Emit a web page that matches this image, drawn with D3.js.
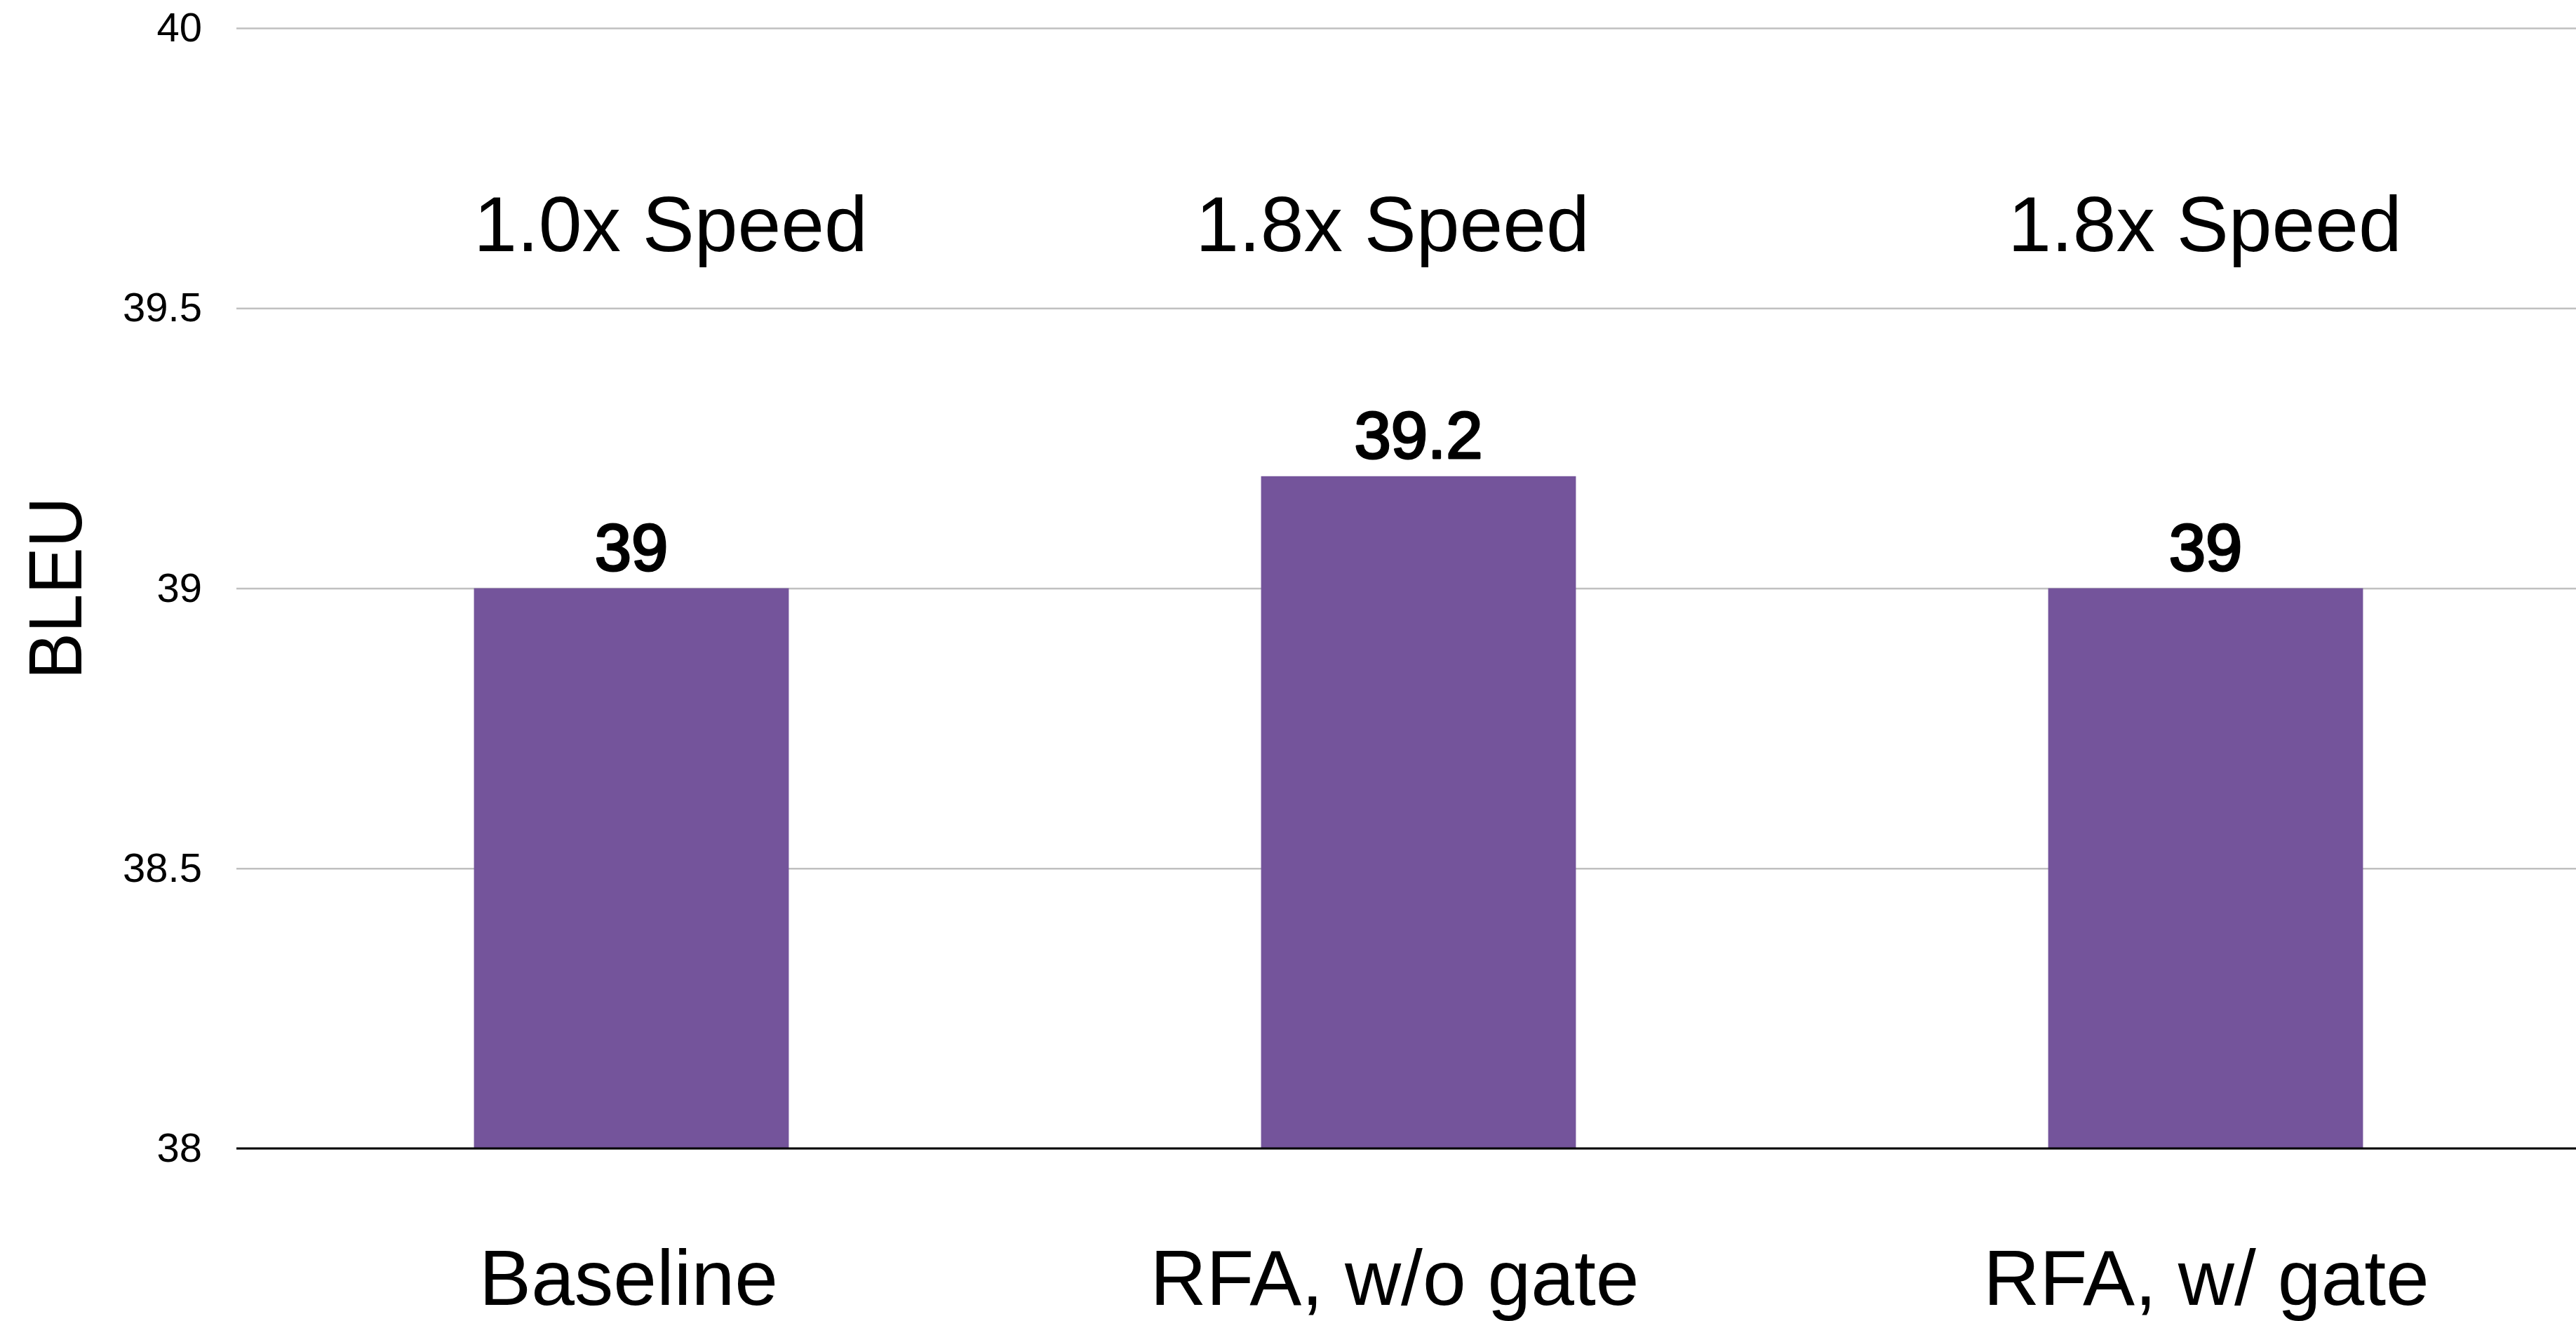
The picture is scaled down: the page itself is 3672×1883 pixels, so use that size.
<!DOCTYPE html>
<html>
<head>
<meta charset="utf-8">
<script src="https://cdn.jsdelivr.net/npm/d3@7"></script>
<style>
  html, body { margin: 0; padding: 0; background: #ffffff; }
  svg { display: block; }
  text { font-family: "Liberation Sans", Arial, Helvetica, sans-serif; fill: #000; }
</style>
</head>
<body>
<script>
// BLEU score per model variant
const categories = ["Baseline", "RFA, w/o gate", "RFA, w/ gate"];
const bleuValues = [39, 39.2, 39];
const valueLabels = ["39", "39.2", "39"];
const speedLabels = ["1.0x Speed", "1.8x Speed", "1.8x Speed"];
const yTicks = [38, 38.5, 39, 39.5, 40];
const yTickLabels = ["38", "38.5", "39", "39.5", "40"];
const yDomain = [38, 40];

const W = 3672, H = 1883;
const plotLeft = 337, plotRight = W;
const plotTop = 40, plotBottom = 1637;

// small horizontal nudges for the free-standing text boxes
const speedNudge = [56, -37, -1];
const catNudge = [-4, -34, 1];

const svg = d3.select("body").append("svg")
  .attr("width", W).attr("height", H);

const y = d3.scaleLinear().domain(yDomain).range([plotBottom, plotTop]);
const x = d3.scaleBand().domain(categories)
  .range([339, 3705]).paddingInner(0.6).paddingOuter(0.3);

// gridlines + tick labels
const yAxis = d3.axisLeft(y)
  .tickValues(yTicks)
  .tickFormat((d, i) => yTickLabels[i])
  .tickSizeInner(-(plotRight - plotLeft))
  .tickSizeOuter(0)
  .tickPadding(49);

const gy = svg.append("g")
  .attr("transform", `translate(${plotLeft},0)`)
  .call(yAxis);
gy.select(".domain").remove();
gy.selectAll(".tick line").attr("stroke", "#c0c0c0").attr("stroke-width", 2.5);
gy.selectAll(".tick text")
  .attr("font-size", 58)
  .attr("font-family", "'Liberation Sans', Arial, sans-serif")
  .attr("fill", "#000");

// bars
svg.append("g").selectAll("rect")
  .data(bleuValues)
  .join("rect")
  .attr("x", (d, i) => x(categories[i]))
  .attr("width", x.bandwidth())
  .attr("y", d => y(d))
  .attr("height", d => y(yDomain[0]) - y(d))
  .attr("fill", "#74549b");

// baseline axis line
svg.append("line")
  .attr("x1", plotLeft).attr("x2", plotRight)
  .attr("y1", y(yDomain[0])).attr("y2", y(yDomain[0]))
  .attr("stroke", "#000").attr("stroke-width", 3);

// value labels above bars (medium weight)
svg.append("g").selectAll("text")
  .data(bleuValues)
  .join("text")
  .attr("x", (d, i) => x(categories[i]) + x.bandwidth() / 2)
  .attr("y", d => y(d) - 26)
  .attr("text-anchor", "middle")
  .attr("font-size", 94)
  .attr("stroke", "#000")
  .attr("stroke-width", 3.2)
  .attr("stroke-linejoin", "round")
  .text((d, i) => valueLabels[i]);

// speed annotations
svg.append("g").selectAll("text")
  .data(speedLabels)
  .join("text")
  .attr("x", (d, i) => x(categories[i]) + x.bandwidth() / 2 + speedNudge[i])
  .attr("y", 358)
  .attr("text-anchor", "middle")
  .attr("font-size", 111)
  .text(d => d);

// category labels
svg.append("g").selectAll("text")
  .data(categories)
  .join("text")
  .attr("x", (d, i) => x(d) + x.bandwidth() / 2 + catNudge[i])
  .attr("y", 1860)
  .attr("text-anchor", "middle")
  .attr("font-size", 111)
  .text(d => d);

// y-axis title
svg.append("text")
  .attr("transform", `translate(116,${(plotTop + plotBottom) / 2}) rotate(-90)`)
  .attr("text-anchor", "middle")
  .attr("font-size", 108)
  .attr("textLength", 260)
  .attr("lengthAdjust", "spacingAndGlyphs")
  .text("BLEU");
</script>
</body>
</html>
